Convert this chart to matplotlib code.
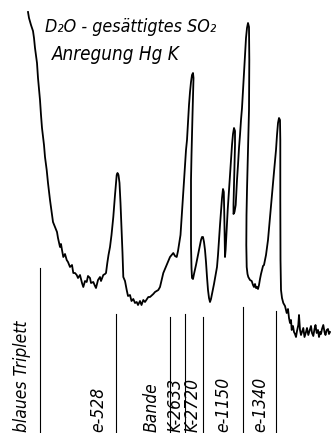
import matplotlib.pyplot as plt

# Raman trace, (position, intensity) pairs, in pieces
left_wing = [(28, 421), (29, 415), (31, 408), (33, 402), (34, 395), (35, 385), (37, 370),
             (38, 355), (40, 333), (41, 318), (42, 305), (44, 288), (45, 276), (46.7, 263),
             (48, 250), (50, 233), (53, 211), (55, 206), (57, 201), (58, 195), (60, 186),
             (61, 189), (62, 183), (63.3, 176), (65, 179), (66.7, 173), (68, 171), (70, 166),
             (72, 168), (73.3, 160), (75, 160), (76.7, 158), (78, 155), (80, 158), (82, 150),
             (83.3, 146), (85, 152), (86.7, 151), (88, 157), (90, 155), (91, 150), (93.3, 151),
             (95, 147), (96, 145), (98, 153), (100, 156), (101, 152), (103.3, 158), (105, 159),
             (106, 160)]
peak_528 = [(107.3, 170), (108.5, 178), (110, 186), (111.5, 198), (113.3, 216), (115, 238),
            (116.7, 258), (117.5, 260), (118.5, 258), (119.5, 250), (120.5, 230), (121.5, 205),
            (122.5, 180), (123.3, 156)]
valley = [(125, 152), (126.7, 143), (128, 137), (130, 138), (131.5, 132), (133.3, 134),
          (135, 130), (136.7, 131), (138, 128), (140, 132), (141.5, 128), (143.3, 133),
          (145, 131), (148.3, 136), (150, 136), (153.3, 139), (155, 141), (158.3, 143),
          (160, 146), (163.3, 160), (166.7, 168), (170, 176), (173.3, 180), (175, 177),
          (176.7, 176), (178, 182), (179.3, 190)]
peak_big1 = [(180.5, 198), (181.7, 216), (182.5, 228), (183.3, 240), (184.2, 255), (185, 268),
             (186, 283), (187, 293), (188, 311), (189, 328), (190, 341), (191, 351), (192, 358),
             (193, 360), (193.5, 355), (193, 338), (192.5, 318), (192, 298), (191.5, 278),
             (191, 253), (191, 218), (191, 188), (191.5, 165), (192, 155), (193, 154)]
band = [(194, 159), (196, 168), (198, 178), (200, 188), (201, 193), (202, 196), (203, 196),
        (204, 191), (205, 183), (206, 171), (207, 156), (208, 143), (209, 135), (210, 131),
        (211, 134), (212, 139), (214, 149), (216, 160), (217, 166)]
triple = [(218, 178), (219, 193), (220, 208), (221, 221), (222, 235), (223, 244), (223.8, 241),
          (224.2, 223), (224.6, 198), (225, 176), (225.6, 183), (226.5, 201), (227.7, 223),
          (229, 243), (230, 258), (231, 273), (232, 288), (233, 299), (234, 305), (235, 302),
          (235, 288), (234.5, 268), (234, 248), (233.5, 228), (233.5, 219), (234.5, 221),
          (235.7, 228), (237, 253), (238, 268), (239, 285), (240, 298), (241, 313), (242, 325),
          (243, 343), (244, 363), (245, 381), (246, 395), (247, 405), (248, 410), (249, 406),
          (249.3, 373), (249, 323), (248, 283), (247, 243), (246.5, 218), (246.3, 188),
          (246.7, 166), (247.5, 159), (248.3, 156)]
peak_1340 = [(250, 153), (251.7, 152), (253, 148), (254, 146), (255, 149), (256, 145),
             (257, 146), (258, 144), (259, 148), (260, 154), (261, 159), (262, 163), (263, 167),
             (264, 168), (266, 178), (268, 193), (270, 216), (272, 238), (274, 261), (276, 283),
             (277, 298), (278, 310), (279, 315), (280, 313), (280.3, 293), (280.3, 233),
             (280.5, 173), (281, 143), (282, 135), (283.3, 130)]
tail = [(285, 127), (286.7, 120), (288, 124), (289, 115), (290, 110), (291, 113), (291.7, 103),
        (293, 107), (294, 101), (295, 99), (296, 96), (297, 102), (298.3, 108), (299, 118),
        (300, 103), (301, 98), (302, 101), (303.3, 105), (304.5, 96), (306, 101), (307, 105),
        (308.3, 98), (309.5, 102), (311, 107), (312, 100), (313.3, 97), (314.5, 104),
        (315.5, 108), (316.7, 100), (318, 103), (319, 96), (320, 101), (321, 99), (322, 104),
        (323.3, 108), (324.5, 101), (325.5, 98), (326.7, 103), (328, 104), (329, 99), (330, 101)]

# reference lines below the trace
line_pos = [40, 116, 170, 185, 203, 243, 276]
line_top = [165, 119, 116, 119, 116, 126, 122]

# labels (the visible part of each, it is cut at the lower edge of the scan)
labels = ['blaues Triplett', 'e-528', 'Bande', 'K-2633', 'K-2720', 'e-1150', 'e-1340']
label_x = [22, 98, 152, 176, 193, 223, 260]

fam = ['DejaVu Sans']

trace = left_wing + peak_528 + valley + peak_big1 + band + triple + peak_1340 + tail
pos = [p[0] for p in trace]
intensity = [p[1] for p in trace]

fig = plt.figure(figsize=(3.31, 4.33), dpi=100)
ax = fig.add_axes([0, 0, 1, 1])
ax.set_xlim(0, 331)
ax.set_ylim(0, 433)
ax.axis('off')

ax.plot(pos, intensity, color='black', lw=1.3, solid_joinstyle='round')

for x, top in zip(line_pos, line_top):
    ax.plot([x, x], [0, top], color='black', lw=0.8)

for s, x in zip(labels, label_x):
    ax.text(x, 1, s, rotation=90, ha='center', va='bottom', fontsize=12.5,
            style='italic', family=fam, stretch='condensed')

ax.text(45, 415, 'D\u2082O - gesättigtes SO\u2082', ha='left', va='top',
        fontsize=12.8, style='italic', family=fam, stretch='condensed')
ax.text(52, 388, 'Anregung Hg K', ha='left', va='top',
        fontsize=13.5, style='italic', family=fam, stretch='condensed')

plt.savefig('out.png', dpi=100)
